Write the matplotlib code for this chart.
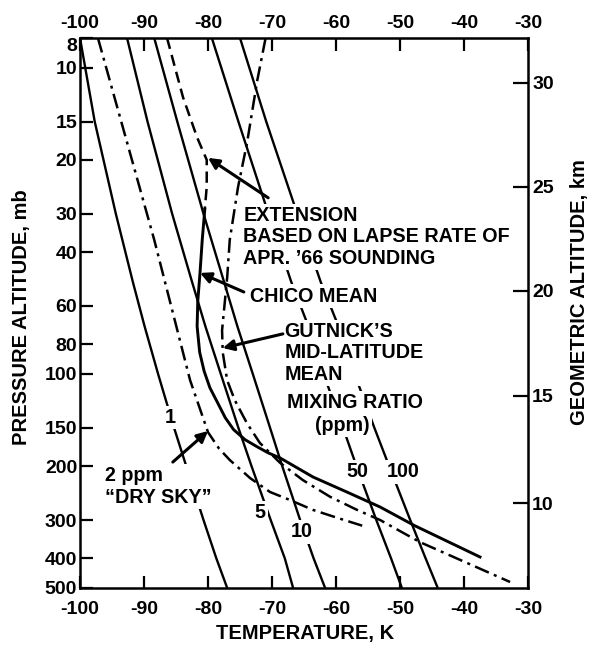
import matplotlib.pyplot as plt
from matplotlib.ticker import NullLocator

plt.rcParams["font.family"] = ["Liberation Sans", "DejaVu Sans"]
plt.rcParams["font.weight"] = "bold"
plt.rcParams["axes.unicode_minus"] = False

# mixing ratio lines (ppm), temperature in deg, pressure in mb
mr_p = [8, 15, 30, 50, 70, 100, 150, 200, 300, 400, 500]
mr1_t = [-100.0, -97.7, -94.4, -91.75, -89.9, -87.8, -85.3, -83.4, -80.7, -78.7, -77.0]
mr5_t = [-92.65, -89.45, -85.6, -82.5, -80.4, -78.0, -75.25, -73.2, -70.2, -68.0, -66.7]
mr10_t = [-88.4, -84.8, -80.7, -77.5, -75.4, -73.0, -70.3, -68.4, -65.6, -63.5, -61.7]
mr50_t = [-79.4, -75.25, -70.55, -67.0, -64.3, -61.95, -58.9, -56.8, -53.7, -51.4, -49.7]
mr100_t = [-75.0, -70.9, -66.05, -62.4, -59.6, -57.1, -54.0, -51.7, -48.4, -46.0, -44.1]

# 2 ppm "dry sky" profile
dry_t = [-97.2, -88.4, -82.8, -80.0, -78.3, -76.6, -73.4, -70.3, -67.2, -63.6, -59.8, -55.9]
dry_p = [8, 36.5, 104.8, 155, 175, 191, 219, 243, 258, 278, 295, 313]

# Chico mean, extension above ~29 mb
ext_t = [-86.4, -83.9, -81.7, -80.2, -80.2, -80.5]
ext_p = [8, 12.5, 16.9, 20, 24.5, 29]
chico_t = [-80.5, -80.9, -81.25, -81.6, -81.7, -81.3, -80.6, -79.7, -78.6, -77.3, -76.0,
           -74.2, -72.3, -70.6, -68.75, -63.6, -58.3, -53.1, -47.7, -37.5]
chico_p = [29, 36.5, 46.8, 58, 70, 85, 98, 111, 123, 139, 152,
           164, 173, 181, 188, 217, 243, 272, 313, 396]

# Gutnick's mid-latitude mean
gut_t = [-71.0, -72.3, -73.9, -75.3, -76.6, -77.0, -77.8, -77.7, -77.0, -75.8, -73.9,
         -71.9, -68.75, -65.2, -60.9, -56.7, -53.1, -46.9, -32.8]
gut_p = [8, 11, 17.6, 24.5, 36.5, 48.3, 72, 85, 105, 122, 145, 168, 195, 222, 252,
         278, 300, 354, 478]

p_ticks = [8, 10, 15, 20, 30, 40, 60, 80, 100, 150, 200, 300, 400, 500]
t_ticks = [-100, -90, -80, -70, -60, -50, -40, -30]
alt_km = [10, 15, 20, 25, 30]
alt_p = [264, 118, 53.6, 24.5, 11.2]

fig = plt.figure(figsize=(5.93, 6.46), dpi=100)
ax = fig.add_axes([80 / 593, 1 - 588 / 646, 448 / 593, 550 / 646])

mr_kw = dict(color="black", lw=1.7, solid_capstyle="butt", zorder=2)
for t in [mr1_t, mr5_t, mr10_t, mr50_t, mr100_t]:
    ax.plot(t, mr_p, **mr_kw)

dashdot = (0, (6, 2.2, 1.2, 2.2))
ax.plot(dry_t, dry_p, color="black", lw=1.8, ls=dashdot, zorder=2)
ax.plot(ext_t, ext_p, color="black", lw=1.8, ls=(0, (4.5, 2.5)), zorder=2)
ax.plot(chico_t, chico_p, color="black", lw=2.1, zorder=2)
ax.plot(gut_t, gut_p, color="black", lw=1.8, ls=dashdot, zorder=2)

ax.set_yscale("log")
ax.set_ylim(500, 8)
ax.set_xlim(-100, -30)
ax.yaxis.set_minor_locator(NullLocator())
ax.set_yticks(p_ticks, [str(v) for v in p_ticks])
ax.set_xticks(t_ticks, [str(v) for v in t_ticks])
# top "8" sits just under the corner, clear of the top "-100"
ax.get_yticklabels()[0].set_verticalalignment("top")

for s in ax.spines.values():
    s.set_linewidth(1.8)
ax.tick_params(direction="in", length=9, width=1.6, labelsize=14)
ax.tick_params(axis="x", pad=9)
ax.tick_params(axis="y", pad=2)

top = ax.secondary_xaxis("top")
top.set_xticks(t_ticks, [str(v) for v in t_ticks])
top.tick_params(direction="in", length=9, width=1.6, labelsize=14, pad=4)

ax2 = ax.twinx()
ax2.set_yscale("log")
ax2.set_ylim(500, 8)
ax2.yaxis.set_minor_locator(NullLocator())
ax2.set_yticks(alt_p, [str(v) for v in alt_km])
ax2.tick_params(direction="in", length=11, width=1.6, labelsize=14, pad=3)
for s in ax2.spines.values():
    s.set_visible(False)

box = dict(facecolor="white", edgecolor="none", pad=1.5)
txt = dict(fontsize=14.2, fontweight="bold", bbox=box, zorder=4)

ax.text(-74.5, 35.7, "EXTENSION\nBASED ON LAPSE RATE OF\nAPR. \u201966 SOUNDING",
        ha="left", va="center", linespacing=1.18, **txt)
ax.text(-73.4, 55.7, "CHICO MEAN", ha="left", va="center", **txt)
ax.text(-68.1, 85.4, "GUTNICK\u2019S\nMID-LATITUDE\nMEAN",
        ha="left", va="center", linespacing=1.18, **txt)
ax.text(-67.7, 124, "MIXING RATIO", ha="left", va="center", **txt)
ax.text(-63.3, 147, "(ppm)", ha="left", va="center", **txt)
ax.text(-96.1, 233, "2 ppm\n\u201cDRY SKY\u201d", ha="left", va="center",
        linespacing=1.18, **txt)

for label, t, p in [("1", -85.9, 139), ("5", -71.9, 284), ("10", -65.3, 328),
                    ("50", -56.7, 209), ("100", -49.5, 209)]:
    ax.text(t, p, label, ha="center", va="center", **txt)

arrow = dict(arrowstyle="-|>", color="black", lw=2.2, mutation_scale=16,
             shrinkA=0, shrinkB=0)
for tip, tail in [((-80.0, 19.7), (-70.6, 26.6)),
                  ((-81.25, 46.8), (-74.4, 54)),
                  ((-77.7, 82.3), (-68.3, 74)),
                  ((-80.0, 153.6), (-85.5, 194))]:
    ax.annotate("", xy=tip, xytext=tail, arrowprops=arrow, zorder=5)

fig.text(305 / 593, 1 - 633 / 646, "TEMPERATURE, K", ha="center", va="center",
         fontsize=14.5, fontweight="bold")
fig.text(22 / 593, 1 - 317 / 646, "PRESSURE ALTITUDE, mb", ha="center", va="center",
         rotation=90, fontsize=14.5, fontweight="bold")
fig.text(580 / 593, 1 - 292 / 646, "GEOMETRIC ALTITUDE, km", ha="center", va="center",
         rotation=90, fontsize=14.5, fontweight="bold")

fig.savefig("out.png", dpi=100)
